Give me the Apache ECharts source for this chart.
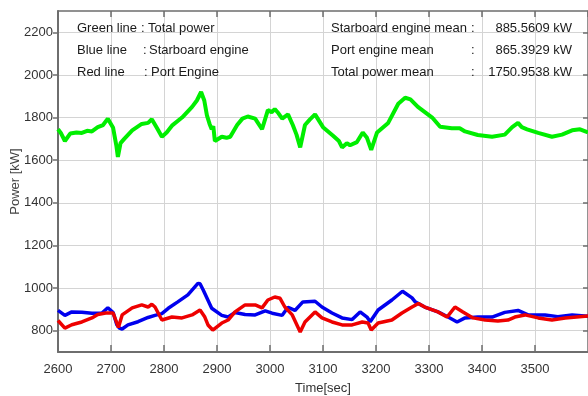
<!DOCTYPE html>
<html>
<head>
<meta charset="utf-8">
<script src="https://cdn.jsdelivr.net/npm/echarts@6/dist/echarts.min.js"></script>
<style>
html,body{margin:0;padding:0;background:#fff;}
#chart{width:588px;height:396px;}
</style>
</head>
<body>
<div id="chart"></div>
<script>
const yTicks = [800, 1000, 1200, 1400, 1600, 1800, 2000, 2200];
const xTicksShown = [2600, 2700, 2800, 2900, 3000, 3100, 3200, 3300, 3400, 3500];

const greenTime = [2600,2606,2613,2623,2635,2645,2655,2664,2675,2685,2694,2704,2710,2713,2718,2725,2740,2758,2770,2777,2787,2796,2805,2815,2834,2853,2862,2870,2876,2881,2886,2890,2893,2896,2909,2918,2925,2938,2948,2958,2972,2985,2996,3003,3009,3016,3023,3034,3043,3050,3057,3066,3075,3085,3100,3119,3130,3136,3145,3151,3164,3175,3183,3191,3202,3223,3242,3255,3265,3279,3306,3321,3343,3358,3368,3392,3419,3443,3457,3468,3475,3485,3506,3532,3551,3570,3585,3600];
const greenPower = [1745,1725,1690,1725,1730,1728,1738,1735,1755,1765,1795,1752,1670,1615,1680,1700,1740,1770,1775,1792,1750,1710,1730,1762,1800,1850,1880,1920,1880,1810,1770,1745,1760,1690,1710,1705,1710,1765,1795,1805,1795,1745,1835,1825,1840,1820,1795,1815,1765,1720,1660,1765,1790,1815,1755,1715,1690,1660,1680,1670,1685,1730,1705,1648,1730,1775,1865,1893,1885,1850,1800,1757,1750,1750,1735,1718,1710,1720,1755,1775,1755,1745,1728,1710,1720,1740,1745,1730];

const blueTime = [2600,2613,2626,2645,2664,2683,2694,2704,2711,2716,2721,2732,2751,2770,2783,2796,2808,2826,2845,2864,2868,2874,2890,2909,2921,2934,2953,2972,2991,3004,3023,3034,3047,3062,3085,3098,3117,3136,3155,3170,3183,3189,3204,3230,3250,3268,3274,3292,3317,3336,3353,3368,3392,3419,3443,3468,3487,3519,3543,3570,3600];
const bluePower = [895,872,888,886,882,883,908,885,828,812,808,827,842,862,872,880,905,935,968,1022,1020,991,905,872,864,885,876,874,893,882,872,910,895,935,938,911,883,860,852,888,864,842,897,944,985,954,935,911,888,864,841,860,864,864,886,895,874,874,866,874,868];

const redTime = [2600,2613,2626,2645,2664,2675,2690,2704,2711,2714,2721,2740,2758,2770,2777,2783,2796,2815,2834,2853,2868,2877,2883,2892,2909,2921,2934,2953,2972,2985,2996,3009,3019,3028,3042,3057,3066,3085,3098,3117,3136,3155,3174,3185,3191,3204,3230,3249,3268,3280,3292,3317,3334,3349,3364,3383,3406,3430,3449,3462,3481,3506,3532,3557,3600];
const redPower = [848,812,828,841,860,876,883,883,836,815,874,907,921,911,924,911,850,864,860,874,897,864,827,803,836,850,888,921,921,907,944,958,952,911,874,794,841,888,860,841,827,827,841,836,803,836,850,883,911,928,911,888,864,911,888,860,850,846,850,864,874,860,850,860,869];

const legendLabels = ['Green line', 'Blue line', 'Red line'];
const legendValues = ['Total power', 'Starboard engine', 'Port Engine'];
const meanLabels = ['Starboard engine mean', 'Port engine mean', 'Total power mean'];
const meanValues = ['885.5609 kW', '865.3929 kW', '1750.9538 kW'];

const pair = (t, v) => t.map((x, i) => [x, v[i]]);

const FONT = '"Liberation Sans", Arial, sans-serif';
const rowY = [28, 50, 72];
const colonX1 = [141, 143, 144];
const valX1 = [148, 149, 151];

const graphics = [];
for (let i = 0; i < 3; i++) {
  const txt = (x, y, s, align) => ({
    type: 'text', x: x, y: y,
    style: { text: s, font: '13px ' + FONT, fill: '#1a1a1a', textAlign: align || 'left', textVerticalAlign: 'middle' },
    z: 100
  });
  graphics.push(txt(77, rowY[i], legendLabels[i]));
  graphics.push(txt(colonX1[i], rowY[i], ':'));
  graphics.push(txt(valX1[i], rowY[i], legendValues[i]));
  graphics.push(txt(331, rowY[i], meanLabels[i]));
  graphics.push(txt(471, rowY[i], ':'));
  graphics.push(txt(572, rowY[i], meanValues[i], 'right'));
}

const chart = echarts.init(document.getElementById('chart'), null, { renderer: 'canvas' });
const axisLineColor = '#6e6e6e';
const labelStyle = { color: '#333', fontSize: 13, fontFamily: FONT };

chart.setOption({
  animation: false,
  backgroundColor: '#fff',
  grid: { left: 58, right: 0, top: 11, bottom: 44, containLabel: false, outerBoundsMode: 'none' },
  xAxis: [{
    type: 'value', min: 2600, max: 3600, interval: 100,
    position: 'bottom',
    name: 'Time[sec]', nameLocation: 'middle', nameGap: 30, nameMoveOverlap: false,
    nameTextStyle: { color: '#333', fontSize: 13, fontFamily: FONT },
    axisLine: { show: true, onZero: false, lineStyle: { color: axisLineColor, width: 2 } },
    axisTick: { show: true, inside: true, length: 7, lineStyle: { color: axisLineColor, width: 1.5 } },
    axisLabel: Object.assign({ margin: 11, showMaxLabel: false,
      formatter: v => xTicksShown.includes(v) ? String(v) : '' }, labelStyle),
    splitLine: { show: true, lineStyle: { color: '#d4d4d4', width: 1 } }
  }, {
    type: 'value', min: 2600, max: 3600, interval: 100,
    position: 'top',
    axisLine: { show: true, onZero: false, lineStyle: { color: axisLineColor, width: 1.5 } },
    axisTick: { show: true, inside: true, length: 6, lineStyle: { color: axisLineColor, width: 1.5 } },
    axisLabel: { show: false },
    splitLine: { show: false }
  }],
  yAxis: [{
    type: 'value', min: 700, max: 2300,
    position: 'left',
    name: 'Power [kW]', nameLocation: 'middle', nameGap: 36, nameMoveOverlap: false,
    nameTextStyle: { color: '#444', fontSize: 13, fontFamily: FONT },
    axisLine: { show: true, onZero: false, lineStyle: { color: axisLineColor, width: 2 } },
    axisTick: { show: true, inside: false, length: 5, customValues: yTicks, lineStyle: { color: axisLineColor, width: 1.5 } },
    axisLabel: Object.assign({ margin: 5, customValues: yTicks, formatter: v => String(v) }, labelStyle),
    splitLine: { show: true, lineStyle: { color: '#d4d4d4', width: 1 } }
  }, {
    type: 'value', min: 700, max: 2300,
    position: 'right',
    axisLine: { show: true, onZero: false, lineStyle: { color: axisLineColor, width: 1.5 } },
    axisTick: { show: true, inside: true, length: 5, customValues: yTicks, lineStyle: { color: axisLineColor, width: 1.5 } },
    axisLabel: { show: false },
    splitLine: { show: false }
  }],
  graphic: graphics,
  series: [{
    name: 'Total power', type: 'line', xAxisIndex: 0, yAxisIndex: 0,
    data: pair(greenTime, greenPower), showSymbol: false, symbol: 'none',
    lineStyle: { color: '#00ee00', width: 4 }, z: 3
  }, {
    name: 'Starboard engine', type: 'line', xAxisIndex: 0, yAxisIndex: 0,
    data: pair(blueTime, bluePower), showSymbol: false, symbol: 'none',
    lineStyle: { color: '#0000ee', width: 3.5 }, z: 4
  }, {
    name: 'Port Engine', type: 'line', xAxisIndex: 0, yAxisIndex: 0,
    data: pair(redTime, redPower), showSymbol: false, symbol: 'none',
    lineStyle: { color: '#ee0000', width: 3.5 }, z: 5
  }]
});
</script>
</body>
</html>
